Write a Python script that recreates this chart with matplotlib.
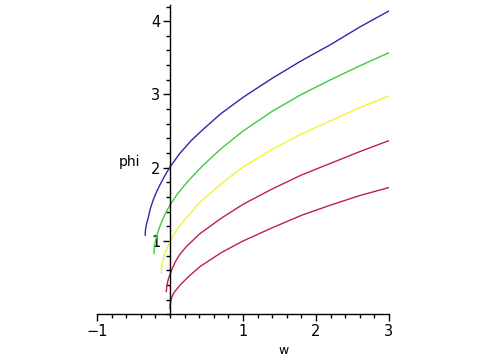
import matplotlib
matplotlib.use("Agg")
import matplotlib.pyplot as plt
from matplotlib.ticker import MultipleLocator

# values
w_blue = [-0.34, -0.335, -0.32, -0.30, -0.27, -0.23, -0.18, -0.12, -0.06, 0.0, 0.13, 0.29, 0.45,
          0.7, 1.0, 1.4, 1.8, 2.2, 2.6, 3.0]
phi_blue = [1.08, 1.16, 1.24, 1.31, 1.44, 1.56, 1.68, 1.80, 1.91, 2.01, 2.19, 2.37, 2.52,
            2.74, 2.96, 3.22, 3.46, 3.68, 3.92, 4.14]

w_green = [-0.22, -0.215, -0.20, -0.18, -0.15, -0.11, -0.06, 0.0, 0.1, 0.25, 0.45, 0.7, 1.0,
           1.4, 1.8, 2.2, 2.6, 3.0]
phi_green = [0.83, 0.91, 1.0, 1.08, 1.17, 1.27, 1.38, 1.49, 1.64, 1.82, 2.03, 2.26, 2.5,
             2.77, 3.0, 3.2, 3.39, 3.57]

w_yellow = [-0.12, -0.115, -0.10, -0.08, -0.05, -0.02, 0.0, 0.05, 0.12, 0.22, 0.41, 0.7, 1.0,
            1.4, 1.8, 2.2, 2.6, 3.0]
phi_yellow = [0.56, 0.64, 0.72, 0.80, 0.88, 0.95, 0.99, 1.08, 1.19, 1.31, 1.53, 1.78, 2.01,
              2.25, 2.46, 2.64, 2.82, 2.98]

w_red1 = [-0.05, -0.045, -0.035, -0.02, 0.0, 0.03, 0.07, 0.13, 0.22, 0.41, 0.7, 1.0, 1.4,
          1.8, 2.2, 2.6, 3.0]
phi_red1 = [0.31, 0.37, 0.43, 0.49, 0.54, 0.62, 0.71, 0.81, 0.92, 1.1, 1.31, 1.5, 1.71,
            1.9, 2.06, 2.22, 2.37]

w_red2 = [0.0, 0.003, 0.01, 0.025, 0.05, 0.09, 0.15, 0.25, 0.41, 0.7, 1.0, 1.4, 1.8, 2.2,
          2.6, 3.0]
phi_red2 = [0.08, 0.13, 0.18, 0.23, 0.29, 0.34, 0.41, 0.51, 0.65, 0.84, 1.0, 1.18, 1.35, 1.49,
            1.62, 1.73]

x_ticks = [-1, 1, 2, 3]
y_ticks = [1, 2, 3, 4]

fig = plt.figure(figsize=(4.85, 3.6), dpi=100)
ax = fig.add_axes([0.2, 0.127, 0.602, 0.859])

ax.plot(w_blue, phi_blue, color="#2a2aa8", lw=1)
ax.plot(w_green, phi_green, color="#3ccc3c", lw=1)
ax.plot(w_yellow, phi_yellow, color="#f2f238", lw=1)
ax.plot(w_red1, phi_red1, color="#c02048", lw=1)
ax.plot(w_red2, phi_red2, color="#c02048", lw=1)

ax.set_xlim(-1, 3)
ax.set_ylim(0, 4.22)

# axes crossing at the origin, Maple style
ax.spines["left"].set_position(("data", 0))
ax.spines["bottom"].set_position(("data", 0))
ax.spines["top"].set_visible(False)
ax.spines["right"].set_visible(False)
ax.spines["left"].set_linewidth(1)
ax.spines["bottom"].set_linewidth(1)

ax.set_xticks(x_ticks)
ax.set_yticks(y_ticks)
ax.xaxis.set_minor_locator(MultipleLocator(0.2))
ax.yaxis.set_minor_locator(MultipleLocator(0.2))
ax.tick_params(which="major", direction="out", length=5, width=1, labelsize=10.5, colors="black")
ax.tick_params(which="minor", direction="out", length=3, width=1)
ax.tick_params(axis="y", pad=2)
ax.tick_params(axis="x", pad=2)

ax.text(-0.56, 2.08, "phi", fontsize=10, ha="center", va="center")
ax.text(1.55, -0.5, "w", fontsize=9, ha="center", va="center")

fig.savefig("out.png", dpi=100)
